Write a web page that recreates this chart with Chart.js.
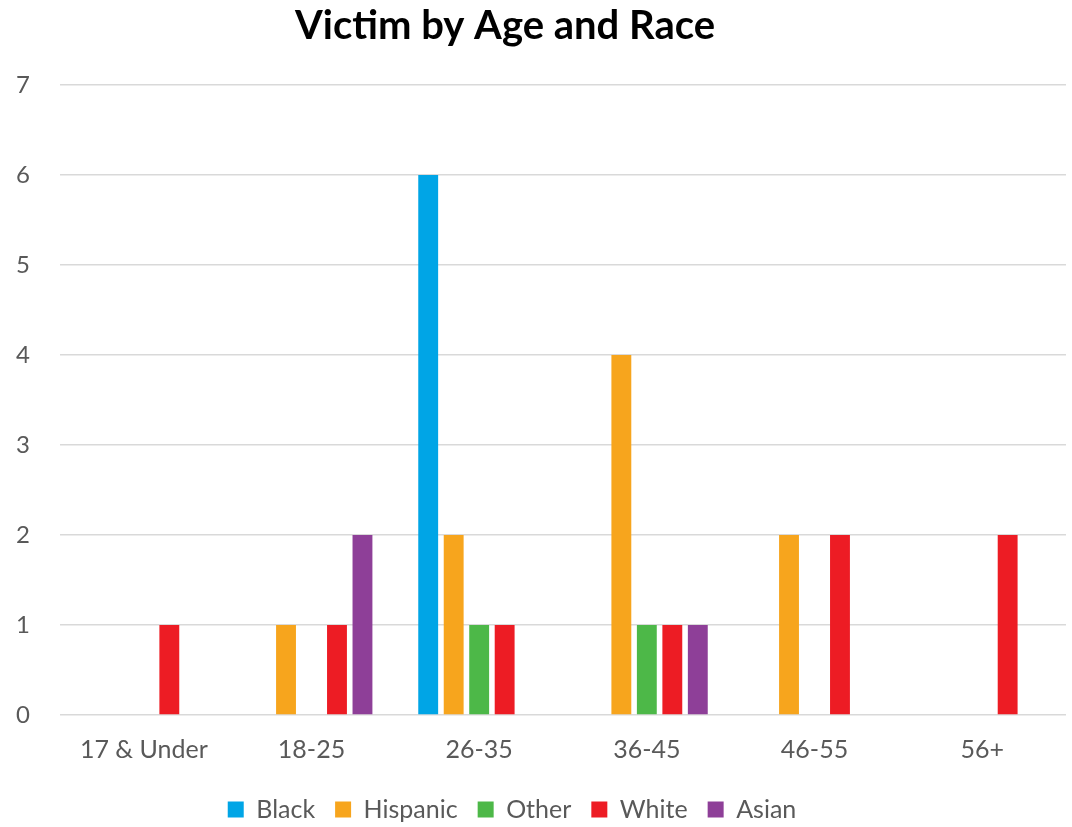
<!DOCTYPE html>
<html>
<head>
<meta charset="utf-8">
<script src="https://cdn.jsdelivr.net/npm/chart.js@4/dist/chart.umd.min.js"></script>
<style>
html,body{margin:0;padding:0;background:#fff;}
#wrap{width:1072px;height:827px;}
</style>
</head>
<body>
<div id="wrap"><canvas id="c" width="1072" height="827"></canvas></div>
<script>
const categories = ["17 & Under", "18-25", "26-35", "36-45", "46-55", "56+"];
const seriesNames = ["Black", "Hispanic", "Other", "White", "Asian"];
const black    = [0, 0, 6, 0, 0, 0];
const hispanic = [0, 1, 2, 4, 2, 0];
const other    = [0, 0, 1, 1, 0, 0];
const white    = [1, 1, 1, 1, 2, 2];
const asian    = [0, 2, 0, 1, 0, 0];
const colors = ["#00A5E6", "#F7A51D", "#4DB848", "#ED1C24", "#8E3F98"];
const titleText = "Victim by Age and Race";

const FONT = "Lato, 'Open Sans', sans-serif";
const values = [black, hispanic, other, white, asian];

const titlePlugin = {
  id: 'customTitle',
  afterLayout(chart) {
    // shift the centred legend slightly left, as in the reference
    if (chart.legend) { chart.legend.right -= 42; }
  },
  afterDraw(chart) {
    const ctx = chart.ctx;
    ctx.save();
    ctx.font = "bold 40px " + FONT;
    ctx.fillStyle = "#000";
    ctx.textAlign = "center";
    ctx.textBaseline = "middle";
    ctx.fillText(titleText, 505, 26);
    ctx.restore();
  }
};

new Chart(document.getElementById('c'), {
  type: 'bar',
  data: {
    labels: categories,
    datasets: seriesNames.map((n, i) => ({
      label: n,
      data: values[i],
      backgroundColor: colors[i],
      borderWidth: 0,
      categoryPercentage: 0.76,
      barPercentage: 0.78
    }))
  },
  options: {
    responsive: false,
    devicePixelRatio: 1,
    animation: false,
    layout: { padding: { top: 85, right: 6, left: 0, bottom: 0 } },
    plugins: {
      legend: {
        position: 'bottom',
        maxHeight: 50,
        labels: {
          font: { family: FONT, size: 25 },
          color: '#595959',
          boxWidth: 16,
          boxHeight: 16,
          padding: 20
        }
      },
      tooltip: { enabled: false },
      title: { display: false }
    },
    scales: {
      x: {
        afterFit(scale) { scale.height = 62; },
        grid: { display: false, drawTicks: false },
        border: { display: false },
        ticks: { font: { family: FONT, size: 25 }, color: '#595959', padding: 20 }
      },
      y: {
        min: 0, max: 7,
        afterFit(scale) { scale.width = 60; },
        grid: { color: '#D9D9D9', lineWidth: 1.5, drawTicks: false },
        border: { display: false },
        ticks: { stepSize: 1, font: { family: FONT, size: 24 }, color: '#595959', padding: 30 }
      }
    }
  },
  plugins: [titlePlugin]
});
</script>
</body>
</html>
